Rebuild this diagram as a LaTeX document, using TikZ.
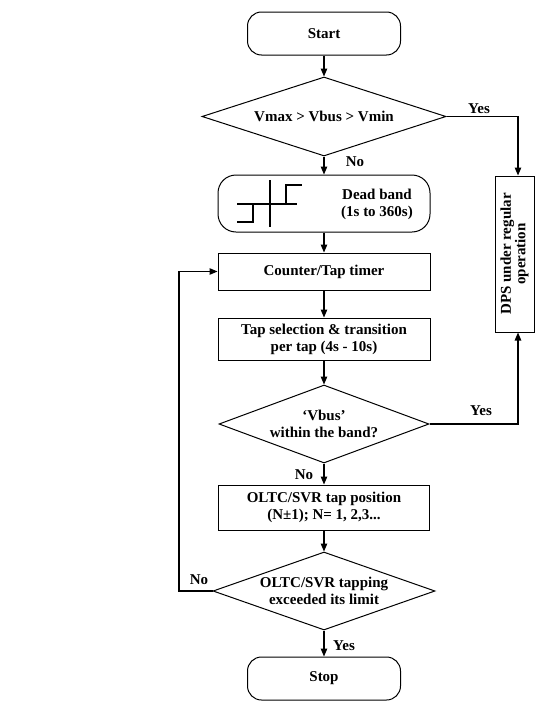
\documentclass[tikz,border=0pt]{standalone}
\usepackage{fontspec}
\setmainfont{Liberation Serif}
\usetikzlibrary{shapes.geometric,arrows.meta}
\begin{document}
\begin{tikzpicture}[x=1pt,y=-1pt,
  font=\fontsize{15}{17}\selectfont\bfseries,
  proc/.style={draw,line width=1pt,inner sep=0pt,align=center},
  term/.style={draw,line width=1pt,inner sep=0pt,rounded corners=14pt},
  dia/.style={draw,line width=1pt,diamond,inner sep=0pt},
  txt/.style={inner sep=0pt,align=center},
  arr/.style={line width=1.2pt,-{Triangle[length=8pt,width=6.5pt]}},
  lbl/.style={inner sep=0pt}]
\useasboundingbox (0,0) rectangle (536,704);

% main column
\node[term, minimum width=153pt, minimum height=43pt] (start) at (324,33.5) {Start};
\node[dia, minimum width=244pt, minimum height=79pt] (d1) at (324,116.5) {};
\node[txt] (d1t) at (d1) {Vmax > Vbus > Vmin};
\node[term, rounded corners=18pt, minimum width=212pt, minimum height=57pt] (dead) at (324,203.5) {};
\node[txt] (deadt) at (377,204.5) {Dead band\\(1s to 360s)};
% hysteresis symbol
\draw[line width=1.2pt] (270,180) -- (270,227);
\draw[line width=1.2pt] (237,204) -- (297,204);
\draw[line width=1.2pt] (237,222) -- (253,222) -- (253,204);
\draw[line width=1.2pt] (286,204) -- (286,185) -- (302,185);
\node[proc, minimum width=212pt, minimum height=37pt] (counter) at (324,271.5) {Counter/Tap timer};
\node[proc, minimum width=212pt, minimum height=42pt] (tapsel) at (324,339) {Tap selection \& transition\\per tap (4s - 10s)};
\node[dia, minimum width=210pt, minimum height=78pt] (d2) at (324,424) {};
\node[txt] (d2t) at (d2) {`Vbus'\\within the band?};
\node[proc, minimum width=211pt, minimum height=45pt] (oltc) at (324,507.5) {OLTC/SVR tap position\\(N±1); N= 1, 2,3...};
\node[dia, minimum width=222pt, minimum height=78pt] (d3) at (324,591) {};
\node[txt] (d3t) at (d3) {OLTC/SVR tapping\\exceeded its limit};
\node[term, minimum width=153pt, minimum height=43pt] (stop) at (324,678.5) {Stop};

% side box
\node[proc, minimum width=39pt, minimum height=156pt] (dps) at (514.5,254) {};
\node[txt, rotate=90, font=\fontsize{15}{14.5}\selectfont\bfseries] (dpst) at (dps) {DPS under regular\\operation};

% connectors
\draw[arr] (start) -- (d1);
\draw[arr] (d1) -- (dead);
\draw[arr] (dead) -- (counter);
\draw[arr] (counter) -- (tapsel);
\draw[arr] (tapsel) -- (d2);
\draw[arr] (d2) -- (oltc);
\draw[arr] (oltc) -- (d3);
\draw[arr] (d3) -- (stop);
\coordinate (yes1) at (518,116.5);
\draw[arr] (d1.east) -- (yes1) -- (yes1 |- dps.north);
\coordinate (yes2) at (518,424);
\draw[arr] (d2.east) -- (yes2) -- (yes2 |- dps.south);
\coordinate (back) at (179,591);
\draw[arr] (d3.west) -- (back) -- (back |- counter.west) -- (counter.west);

% branch labels
\node[lbl] (l1) at (479,109) {Yes};
\node[lbl] (l2) at (355,162) {No};
\node[lbl] (l3) at (481,411) {Yes};
\node[lbl] (l4) at (304,475) {No};
\node[lbl] (l5) at (199,580) {No};
\node[lbl] (l6) at (344,646) {Yes};
\end{tikzpicture}
\end{document}
